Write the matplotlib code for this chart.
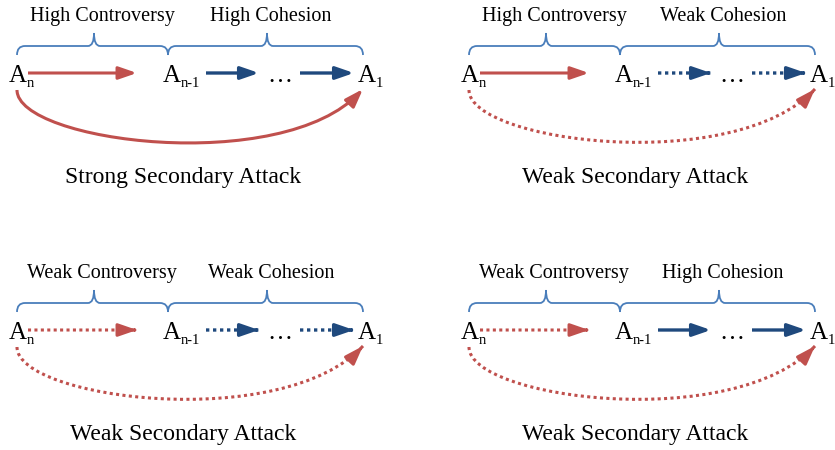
import matplotlib
matplotlib.use("Agg")
from matplotlib import pyplot as plt
from matplotlib.patches import FancyArrowPatch, PathPatch
from matplotlib.path import Path

# Diagram content, one entry per panel (left-right, top-bottom)
controversy_labels = ["High Controversy", "High Controversy", "Weak Controversy", "Weak Controversy"]
cohesion_labels = ["High Cohesion", "Weak Cohesion", "Weak Cohesion", "High Cohesion"]
attack_labels = ["Strong Secondary Attack", "Weak Secondary Attack", "Weak Secondary Attack", "Weak Secondary Attack"]
controversy_strong = [True, True, False, False]
cohesion_strong = [True, False, False, True]
attack_strong = [True, False, False, False]
node_subscripts = ["n", "n-1", "1"]

# Layout (pixel coordinates, y pointing down)
panel_offsets = [(0, 0), (452, 0), (0, 257), (452, 257)]
node_x = [9, 163, 358]
label_x = [102, 271]

RED = "#C0504D"
BLUE = "#1F497D"
BRACE = "#4A7EBB"
SERIF = "Liberation Serif"
DOTS = (0, (1, 1.1))
HEAD = "-|>,head_length=1.1,head_width=0.38"


def brace(ax, x0, x1, xm, dx, dy):
    y_end, y_flat, y_tip = 55 + dy, 46 + dy, 33 + dy
    x0, x1, xm = x0 + dx, x1 + dx, xm + dx
    verts = [(x0, y_end), (x0, y_flat), (x0 + 8, y_flat),
             (xm - 6, y_flat), (xm, y_flat), (xm, y_tip),
             (xm, y_flat), (xm + 6, y_flat),
             (x1 - 8, y_flat), (x1, y_flat), (x1, y_end)]
    codes = [Path.MOVETO, Path.CURVE3, Path.CURVE3,
             Path.LINETO, Path.CURVE3, Path.CURVE3,
             Path.CURVE3, Path.CURVE3,
             Path.LINETO, Path.CURVE3, Path.CURVE3]
    ax.add_patch(PathPatch(Path(verts, codes), fill=False, ec=BRACE, lw=1.3))


def add_arrow(ax, color, strong, lw, **kw):
    # dotted body plus a solid head drawn on top, so the head stays crisp
    ax.add_patch(FancyArrowPatch(arrowstyle="-" if not strong else HEAD,
                                 mutation_scale=10, color=color, lw=lw,
                                 linestyle="-" if strong else DOTS,
                                 capstyle="butt", **kw))
    if not strong:
        ax.add_patch(FancyArrowPatch(arrowstyle=HEAD, mutation_scale=10,
                                     color=color, lw=lw, alpha=1,
                                     linestyle="-", capstyle="butt",
                                     **head_only(kw)))


def head_only(kw):
    # keep only the final short piece of the path / segment for the head
    if "path" in kw:
        v = kw["path"].vertices
        p3, p2 = v[-1], v[-2]
        t = 0.04
        a = (p3[0] - t * (p3[0] - p2[0]), p3[1] - t * (p3[1] - p2[1]))
        return {"posA": a, "posB": tuple(p3), "shrinkA": 0, "shrinkB": 0}
    (x0, y0), (x1, y1) = kw["posA"], kw["posB"]
    return {"posA": (x1 - 3, y1), "posB": (x1, y1), "shrinkA": 0, "shrinkB": 0}


def arrow(ax, x0, x1, y, color, strong, lw=2.3):
    add_arrow(ax, color, strong, lw, posA=(x0, y), posB=(x1, y), shrinkA=0, shrinkB=0)


def node(ax, x, y, sub):
    ax.text(x, y, "A", fontsize=18, family=SERIF, ha="left", va="baseline")
    ax.text(x + 18, y + 5, sub, fontsize=10.5, family=SERIF, ha="left", va="baseline")


def main() -> None:
    fig = plt.figure(figsize=(8.35, 4.5), dpi=100)
    ax = fig.add_axes([0, 0, 1, 1])
    ax.set_xlim(0, 835)
    ax.set_ylim(450, 0)
    ax.axis("off")

    for i, (dx, dy) in enumerate(panel_offsets):
        ax.text(label_x[0] + dx, 21 + dy, controversy_labels[i], fontsize=14.5,
                family=SERIF, ha="center", va="baseline")
        ax.text(label_x[1] + dx, 21 + dy, cohesion_labels[i], fontsize=14.5,
                family=SERIF, ha="center", va="baseline")
        brace(ax, 17, 168, 94, dx, dy)
        brace(ax, 168, 363, 267, dx, dy)

        for x, sub in zip(node_x, node_subscripts):
            node(ax, x + dx, 82 + dy, sub)
        ax.text(280 + dx, 82 + dy, "\u2026", fontsize=18, family=SERIF,
                ha="center", va="baseline")

        arrow(ax, 28 + dx, 137 + dx, 73 + dy, RED, controversy_strong[i], lw=2.2)
        arrow(ax, 206 + dx, 259 + dx, 73 + dy, BLUE, cohesion_strong[i], lw=2.4)
        arrow(ax, 300 + dx, 354 + dx, 73 + dy, BLUE, cohesion_strong[i], lw=2.4)

        curve = Path([(17 + dx, 90 + dy), (17 + dx, 142 + dy),
                      (282 + dx, 176 + dy), (363 + dx, 89 + dy)],
                     [Path.MOVETO, Path.CURVE4, Path.CURVE4, Path.CURVE4])
        add_arrow(ax, RED, attack_strong[i], 2.2, path=curve)

        ax.text(183 + dx, 183 + dy, attack_labels[i], fontsize=17, family=SERIF,
                ha="center", va="baseline")

    fig.savefig("out.png", dpi=100)


if __name__ == "__main__":
    main()
